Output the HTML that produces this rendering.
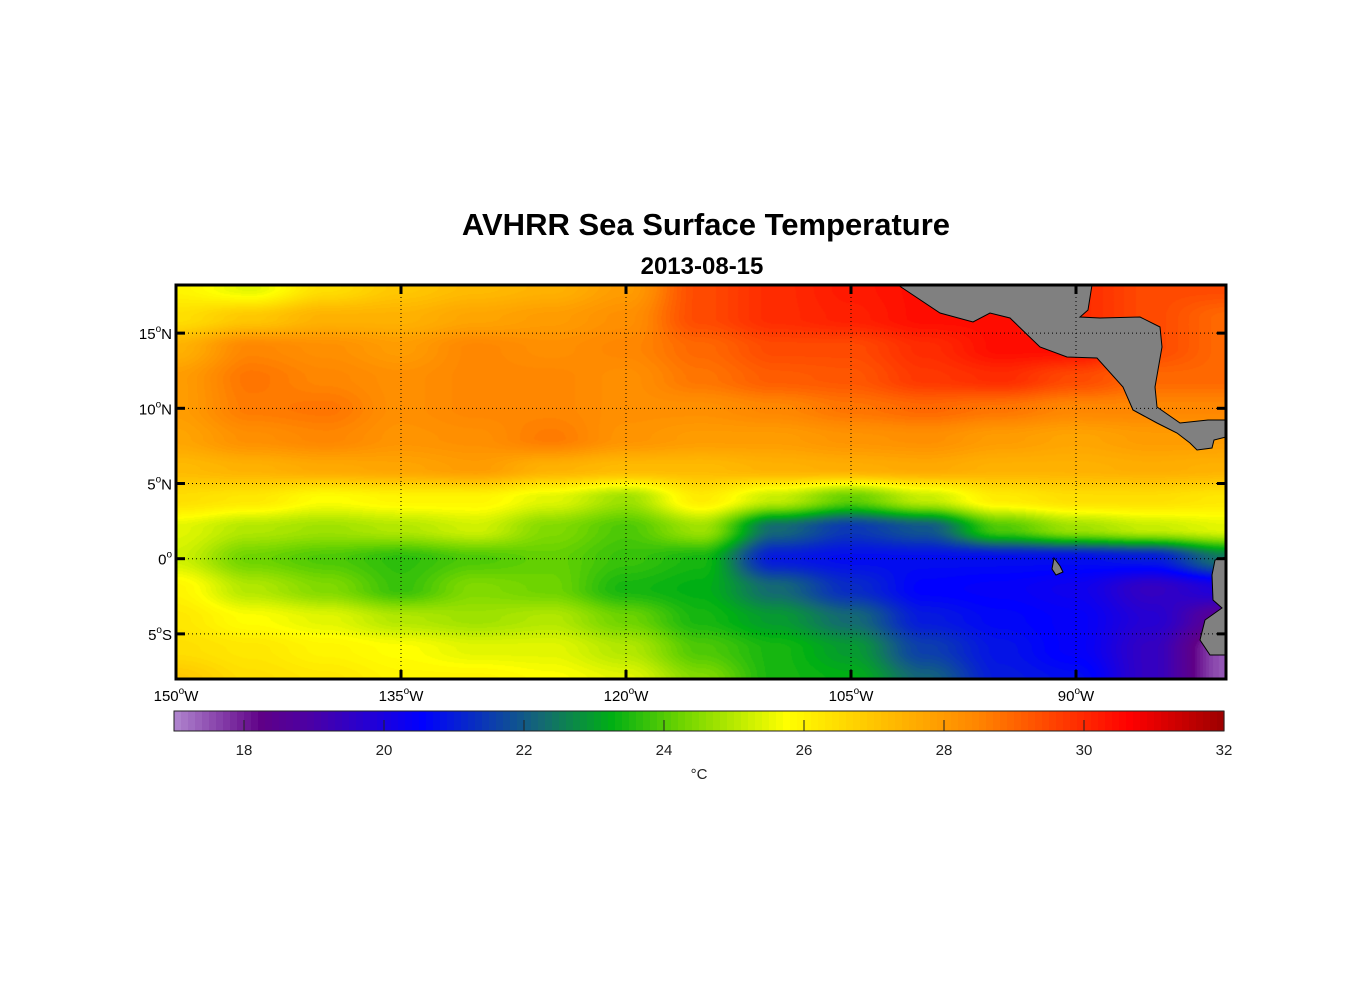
<!DOCTYPE html>
<html><head><meta charset="utf-8">
<style>
body{margin:0;background:#fff;width:1356px;height:1000px;position:relative;overflow:hidden;font-family:"Liberation Sans",Arial,sans-serif}
.t{position:absolute;white-space:nowrap}
</style></head>
<body>
<div class="t" style="left:0;width:1412px;top:207px;text-align:center;font-weight:bold;font-size:31px">AVHRR Sea Surface Temperature</div>
<div class="t" style="left:0;width:1404px;top:253px;text-align:center;font-weight:bold;font-size:24px">2013-08-15</div>
<canvas id="map" width="1050" height="394" style="position:absolute;left:176px;top:285px"></canvas>
<svg id="ov" width="1356" height="1000" style="position:absolute;left:0;top:0"></svg>
<script>
const lons=[-150,-145,-140,-135,-130,-125,-120,-115,-110,-105,-100,-95,-90,-85,-80];
const lats=[18,16,14,12,10,8,6,4,2,0,-2,-4,-6,-8];
const sst=[
[26,25.5,26.5,27,27.3,27.5,28,29.5,30,30.3,30.5,30,30,29.5,29.5],
[26.5,27,27.5,27.5,27.8,28,28.3,29.5,30,30.2,30.5,30.5,30,29.5,29],
[27.5,28.5,28.3,28,28.5,28.3,28.5,29,29.5,29.5,30,30.5,30.5,29.5,29],
[28,28.8,28.5,28.3,28.5,28.5,28.3,28.8,29.2,29.3,29.8,30,29.5,29,29],
[28,28.7,28.8,28.3,28.5,28.5,28.3,28.3,28.5,28.8,29,28.8,28.5,28.5,28.5],
[27.8,28.3,28.5,28.2,28.3,28.7,28.2,28,28,28.2,28.3,28,27.8,28,28],
[27.3,27.5,27.7,27.8,28,27.5,27.3,27.3,27.5,27.6,27.7,27.5,27.5,27.6,27.5],
[26.5,26.3,25.8,26,26,25.5,24.8,26.2,25.2,24.2,25.2,26.2,26.5,26.5,26.3],
[25.5,25,24.8,25,25.3,24.5,24,24.8,22.3,21.5,22,24,24.8,25.2,25.5],
[25.3,24.3,24,23.7,24,24.2,23.8,23.5,21,20.8,20.8,20.8,20.8,21,22.5],
[26,25,24.5,23.8,24.5,24.3,23.5,23.3,22.3,21.3,20.6,20.5,20.3,19.5,20],
[26.3,25.8,25.5,25,24.8,25,24.3,23.5,23,22.3,21,20.7,20.5,19.8,18.5],
[26.5,26.3,26,25.8,25.5,25.5,25,24,23.5,23,21.6,20.9,20.5,19.5,17.5],
[27,26.5,26.3,26,26,25.8,25.5,24.5,23.5,23.3,22.2,21,20.8,19.5,17.5]];
const cbTicks=[18,20,22,24,26,28,30,32];
const lonTicks=[-150,-135,-120,-105,-90];
const latTicks=[15,10,5,0,-5];
const latLabels=["15","10","5","0","5"];
const latHem=["N","N","N","",  "S"];
const lonLabels=["150","135","120","105","90"];

const X0=176,X1=1226,Y0=285,Y1=679,LON0=-150,LON1=-80,LAT0=18.2,LAT1=-8;
const xs=lon=>X0+(lon-LON0)/(LON1-LON0)*(X1-X0);
const ys=lat=>Y0+(LAT0-lat)/(LAT0-LAT1)*(Y1-Y0);
const CB0=174,CB1=1224,CMIN=17,CMAX=32;
const cx=v=>CB0+(v-CMIN)/(CMAX-CMIN)*(CB1-CB0);
const stops=[[17,180,140,210],[18.3,95,0,135],[19,75,0,165],[20.6,0,0,255],[22.3,20,105,115],[23.3,0,175,20],[24.3,110,212,0],[25.8,255,255,0],[27.2,255,190,0],[28.5,255,135,0],[30.7,255,0,0],[32,160,0,0]];
function cmap(v){v=Math.max(CMIN,Math.min(CMAX,v));v=CMIN+Math.floor((v-CMIN)*10+0.5)/10;
 for(let i=1;i<stops.length;i++){if(v<=stops[i][0]){const a=stops[i-1],b=stops[i],t=(v-a[0])/(b[0]-a[0]);
 return [a[1]+(b[1]-a[1])*t,a[2]+(b[2]-a[2])*t,a[3]+(b[3]-a[3])*t].map(Math.round);}}return stops[stops.length-1].slice(1);}
function sample(lon,lat){
 let fi=(lon-lons[0])/(lons[1]-lons[0]),fj=(lats[0]-lat)/(lats[0]-lats[1]);
 fi=Math.max(0,Math.min(lons.length-1.001,fi));fj=Math.max(0,Math.min(lats.length-1.001,fj));
 const i=Math.floor(fi),j=Math.floor(fj),u=fi-i,w=fj-j;
 let s=u*u*(3-2*u),r=w*w*(3-2*w);
 return sst[j][i]*(1-s)*(1-r)+sst[j][i+1]*s*(1-r)+sst[j+1][i]*(1-s)*r+sst[j+1][i+1]*s*r;}
const cv=document.getElementById('map'),ctx=cv.getContext('2d'),img=ctx.createImageData(cv.width,cv.height);
for(let py=0;py<cv.height;py++)for(let px=0;px<cv.width;px++){
 const lon=LON0+(px+0.5)/cv.width*(LON1-LON0),lat=LAT0-(py+0.5)/cv.height*(LAT0-LAT1);
 const c=cmap(sample(lon,lat)),k=(py*cv.width+px)*4;img.data[k]=c[0];img.data[k+1]=c[1];img.data[k+2]=c[2];img.data[k+3]=255;}
ctx.putImageData(img,0,0);

const NS='http://www.w3.org/2000/svg',ov=document.getElementById('ov');
function el(tag,at,parent){const e=document.createElementNS(NS,tag);for(const k in at)e.setAttribute(k,at[k]);(parent||ov).appendChild(e);return e;}
let l=el('polygon',{points:"898,285 940,313 973,322 990,313 1010,318 1040,347 1067,357 1097,358 1123,387 1133,410 1157,423 1177,433 1190,443 1197,450 1212,448 1214,440 1226,437 1226,420 1208,420 1180,423 1157,407 1155,387 1162,347 1160,327 1140,317 1100,318 1080,317 1088,310 1092,285",fill:'#808080',stroke:'#000','stroke-width':1});


l=el('polygon',{points:"1226,557 1215,560 1212,575 1213,600 1222,608 1205,620 1200,640 1210,655 1226,655",fill:'#808080',stroke:'#000','stroke-width':1});


l=el('polygon',{points:"1054,558 1060,566 1063,572 1056,575 1052,569",fill:'#808080',stroke:'#000','stroke-width':1});


lonTicks.forEach((v,i)=>{const x=xs(v);
 if(i>0){const g=el('line',{x1:x,x2:x,y1:Y0,y2:Y1,stroke:'#000','stroke-width':1,'stroke-dasharray':'1,3'});}
 el('line',{x1:x,x2:x,y1:Y0,y2:Y0+9,stroke:'#000','stroke-width':3});el('line',{x1:x,x2:x,y1:Y1-9,y2:Y1,stroke:'#000','stroke-width':3});
 const t=el('text',{x:x,y:701,'text-anchor':'middle','font-size':15,'font-family':'Liberation Sans, sans-serif'});
 
 
 t.innerHTML=lonLabels[i]+'<tspan dy="-7" font-size="10">o</tspan><tspan dy="7">W</tspan>';});
latTicks.forEach((v,i)=>{const y=ys(v);
 const g=el('line',{x1:X0,x2:X1,y1:y,y2:y,stroke:'#000','stroke-width':1,'stroke-dasharray':'1,3'});
 el('line',{x1:X0,x2:X0+9,y1:y,y2:y,stroke:'#000','stroke-width':3});el('line',{x1:X1-9,x2:X1,y1:y,y2:y,stroke:'#000','stroke-width':3});
 const t=el('text',{x:172,y:y+6,'text-anchor':'end','font-size':15,'font-family':'Liberation Sans, sans-serif'});
 
 
 t.innerHTML=latLabels[i]+'<tspan dy="-7" font-size="10">o</tspan><tspan dy="7">'+latHem[i]+'</tspan>';});
const fr=el('rect',{x:X0,y:Y0,width:X1-X0,height:Y1-Y0,fill:'none',stroke:'#000','stroke-width':3});


for(let v=CMIN;v<CMAX-1e-6;v+=0.1){const c=cmap(v+0.05);el('rect',{x:cx(v),y:711,width:cx(v+0.1)-cx(v)+0.6,height:20,fill:'rgb('+c+')'});}
const cb=el('rect',{x:CB0,y:711,width:CB1-CB0,height:20,fill:'none',stroke:'#222','stroke-width':1});


cbTicks.forEach(v=>{const x=cx(v);el('line',{x1:x,x2:x,y1:720,y2:731,stroke:'#222','stroke-width':1});
 const t=el('text',{x:x,y:755,'text-anchor':'middle','font-size':15,fill:'#222','font-family':'Liberation Sans, sans-serif'});
 
 
 t.textContent=v;});
const u=el('text',{x:699,y:779,'text-anchor':'middle','font-size':15,fill:'#222','font-family':'Liberation Sans, sans-serif'});


u.textContent='°C';
</script>
</body></html>
